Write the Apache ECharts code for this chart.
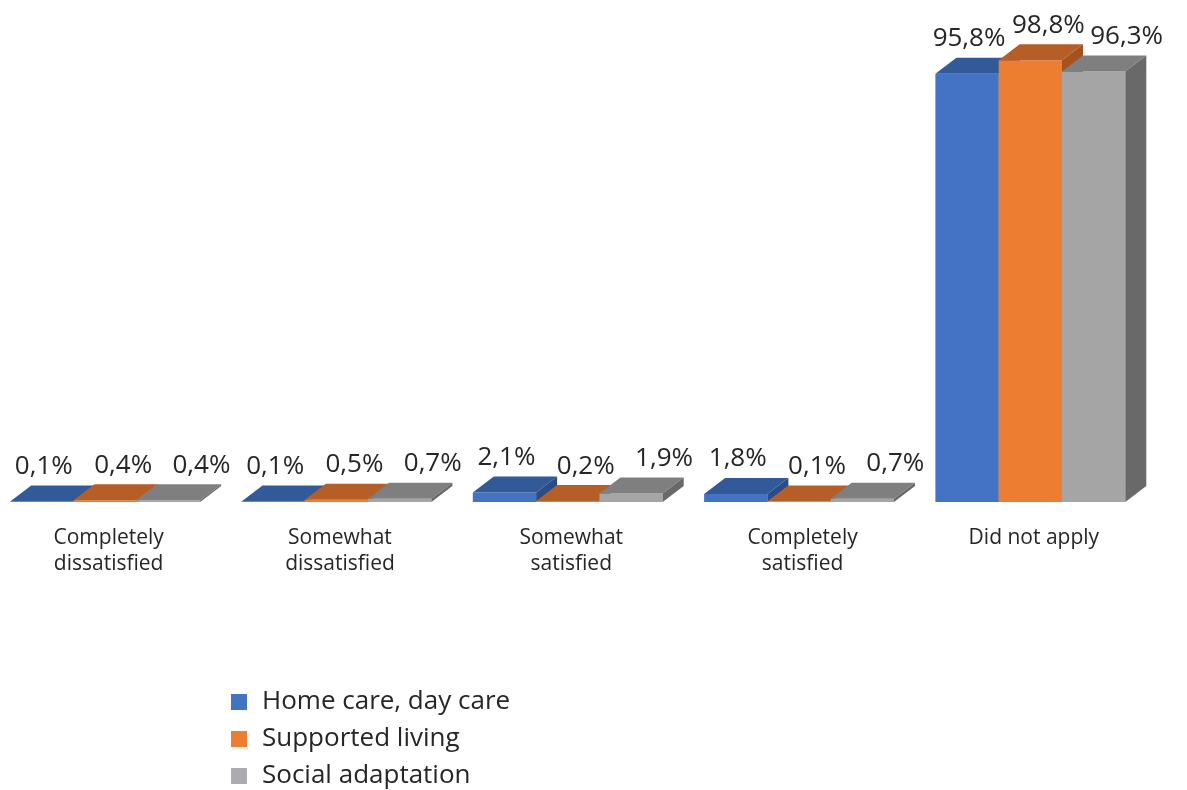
<!DOCTYPE html>
<html>
<head>
<meta charset="utf-8">
<script src="https://cdn.jsdelivr.net/npm/echarts@6/dist/echarts.min.js"></script>
<style>html,body{margin:0;padding:0;background:#fff;}#c{width:1187px;height:790px;}</style>
</head>
<body>
<div id="c"></div>
<script>
const categories = ['Completely\ndissatisfied', 'Somewhat\ndissatisfied', 'Somewhat\nsatisfied', 'Completely\nsatisfied', 'Did not apply'];
const seriesNames = ['Home care, day care', 'Supported living', 'Social adaptation'];
const homeCare = [0.1, 0.1, 2.1, 1.8, 95.8];
const supportedLiving = [0.4, 0.5, 0.2, 0.1, 98.8];
const socialAdaptation = [0.4, 0.7, 1.9, 0.7, 96.3];

const seriesValues = [homeCare, supportedLiving, socialAdaptation];
const palette = [
  {front: '#4472C4', top: '#325A98', side: '#2B4C86'},
  {front: '#ED7D31', top: '#B55E27', side: '#A4521F'},
  {front: '#A5A5A5', top: '#7F7F7F', side: '#696969'}
];
const legendColors = ['#4472C4', '#ED7D31', '#ABABB0'];
const labelShift = [2, 18, 33];
const DX = 21, DY = 16;
const FONT = '"Open Sans", "Noto Sans", sans-serif';

function fmt(v) { return v.toFixed(1).replace('.', ',') + '%'; }

function makeRender(si) {
  return function (params, api) {
    const ci = api.value(0), v = api.value(1);
    const base = api.coord([ci, 0]);
    const top = api.coord([ci, v]);
    const band = api.size([1, 0])[0];
    const bw = band * 63.3 / 231.3;
    const x0 = base[0] - bw * 1.5 - DX / 2 + si * bw;
    const x1 = x0 + bw;
    const yb = base[1], yt = top[1];
    const c = palette[si];
    return {
      type: 'group',
      children: [
        {type: 'rect', shape: {x: x0, y: yt, width: bw, height: yb - yt}, style: {fill: c.front}},
        {type: 'polygon', shape: {points: [[x0, yt], [x1, yt], [x1 + DX, yt - DY], [x0 + DX, yt - DY]]}, style: {fill: c.top}},
        {type: 'polygon', shape: {points: [[x1, yt], [x1 + DX, yt - DY], [x1 + DX, yb - DY], [x1, yb]]}, style: {fill: c.side}},
        {type: 'text', z2: 100, style: {text: fmt(v), x: x0 + bw / 2 + labelShift[si], y: yt - DY - 19,
          align: 'center', verticalAlign: 'middle', fontSize: 26, fontFamily: FONT, fill: '#262626'}}
      ]
    };
  };
}

const chart = echarts.init(document.getElementById('c'));
chart.setOption({
  animation: false,
  backgroundColor: '#fff',
  grid: {left: 0, width: 1156.5, top: 55, bottom: 288, containLabel: false},
  xAxis: {
    type: 'category', data: categories,
    axisLine: {show: false}, axisTick: {show: false},
    axisLabel: {fontSize: 21, lineHeight: 26, color: '#262626', fontFamily: FONT, margin: 23, padding: [0, 14, 0, 0], interval: 0}
  },
  yAxis: {type: 'value', min: 0, max: 100, show: false, splitLine: {show: false}},
  legend: {
    orient: 'vertical', left: 231, top: 689, padding: 0, itemWidth: 16, itemHeight: 16, itemGap: 11, icon: 'rect',
    textStyle: {fontSize: 26, lineHeight: 26, color: '#262626', fontFamily: FONT, padding: [0, 0, 0, 10]},
    data: seriesNames.map((n, i) => ({name: n, itemStyle: {color: legendColors[i]}}))
  },
  series: seriesValues.map((vals, si) => ({
    type: 'custom', name: seriesNames[si],
    itemStyle: {color: legendColors[si]},
    renderItem: makeRender(si),
    encode: {x: 0, y: 1},
    data: vals.map((v, i) => [i, v])
  }))
});
</script>
</body>
</html>
